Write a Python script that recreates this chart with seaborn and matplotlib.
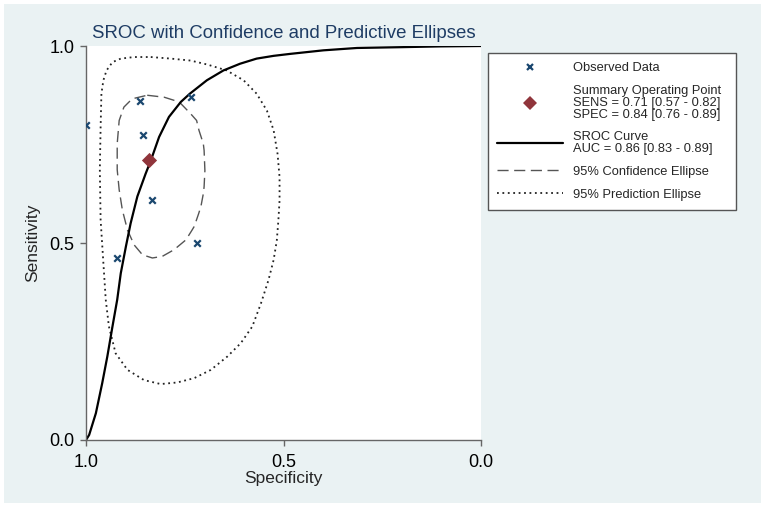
import matplotlib
matplotlib.use("Agg")
import matplotlib.pyplot as plt
import seaborn as sns
from matplotlib.lines import Line2D
from matplotlib.patches import Rectangle

# observed study points (specificity, sensitivity)
obs_spec = [1.000, 0.864, 0.734, 0.855, 0.833, 0.719, 0.922]
obs_sens = [0.800, 0.861, 0.870, 0.774, 0.610, 0.499, 0.462]

# summary operating point
sum_spec = [0.84]
sum_sens = [0.71]

# SROC curve
sroc_spec = [1.000, 0.992, 0.975, 0.959, 0.946, 0.933, 0.921, 0.912, 0.899, 0.887,
             0.870, 0.849, 0.836, 0.815, 0.790, 0.760, 0.737, 0.694, 0.652, 0.610,
             0.568, 0.525, 0.483, 0.399, 0.314, 0.204, 0.103, 0.000]
sroc_sens = [0.000, 0.013, 0.068, 0.144, 0.212, 0.288, 0.356, 0.423, 0.491, 0.550,
             0.618, 0.676, 0.709, 0.769, 0.820, 0.858, 0.879, 0.913, 0.938, 0.955,
             0.968, 0.975, 0.980, 0.989, 0.995, 0.997, 0.999, 1.000]

# 95% confidence ellipse
ci_spec = [0.845, 0.802, 0.764, 0.735, 0.720, 0.714, 0.703, 0.701, 0.699, 0.701,
           0.703, 0.709, 0.715, 0.726, 0.732, 0.747, 0.777, 0.807, 0.832, 0.857,
           0.878, 0.895, 0.908, 0.916, 0.921, 0.921, 0.916, 0.904, 0.883, 0.845]
ci_sens = [0.875, 0.870, 0.858, 0.828, 0.811, 0.786, 0.752, 0.735, 0.684, 0.643,
           0.625, 0.593, 0.574, 0.542, 0.532, 0.508, 0.483, 0.466, 0.462, 0.470,
           0.495, 0.533, 0.584, 0.635, 0.686, 0.752, 0.811, 0.845, 0.866, 0.875]

# 95% prediction ellipse
pi_spec = [0.836, 0.785, 0.735, 0.693, 0.644, 0.601, 0.568, 0.542, 0.525, 0.515,
           0.510, 0.510, 0.513, 0.517, 0.525, 0.538, 0.557, 0.579, 0.608, 0.642,
           0.684, 0.726, 0.769, 0.811, 0.853, 0.895, 0.925, 0.942, 0.950, 0.956,
           0.963, 0.965, 0.963, 0.961, 0.956, 0.948, 0.933, 0.912, 0.878, 0.836]
pi_sens = [0.972, 0.968, 0.963, 0.953, 0.938, 0.913, 0.879, 0.836, 0.786, 0.726,
           0.667, 0.608, 0.557, 0.506, 0.457, 0.406, 0.347, 0.288, 0.246, 0.212,
           0.178, 0.157, 0.146, 0.142, 0.152, 0.178, 0.220, 0.288, 0.356, 0.449,
           0.559, 0.686, 0.794, 0.879, 0.913, 0.938, 0.959, 0.968, 0.972, 0.972]

legend_labels = [
    "Observed Data",
    "Summary Operating Point\nSENS = 0.71 [0.57 - 0.82]\nSPEC = 0.84 [0.76 - 0.89]",
    "SROC Curve\nAUC = 0.86 [0.83 - 0.89]",
    "95% Confidence Ellipse",
    "95% Prediction Ellipse",
]

NAVY = "#1a476f"
MAROON = "#90353b"
BG = "#eaf2f3"

sns.set_style("white")
plt.rcParams["font.family"] = ["Liberation Sans", "DejaVu Sans"]

fig = plt.figure(figsize=(7.65, 5.08), dpi=100)
fig.patch.set_facecolor("white")
fig.patches.append(Rectangle((4 / 765, 5 / 508), 757 / 765, 499 / 508,
                             transform=fig.transFigure, facecolor=BG,
                             edgecolor="none", zorder=-10))

ax = fig.add_axes([86 / 765, 68 / 508, 395 / 765, 394 / 508])
ax.set_facecolor("white")

sns.lineplot(x=pi_spec, y=pi_sens, sort=False, estimator=None, ax=ax,
             color="#222222", lw=1.3, linestyle=(0, (1, 2)))
sns.lineplot(x=ci_spec, y=ci_sens, sort=False, estimator=None, ax=ax,
             color="#555555", lw=1.0, linestyle=(0, (8, 4)))
sns.lineplot(x=sroc_spec, y=sroc_sens, sort=False, estimator=None, ax=ax,
             color="black", lw=1.6)
sns.scatterplot(x=obs_spec, y=obs_sens, ax=ax, marker="x", color=NAVY,
                s=22, linewidth=1.6, zorder=5)
sns.scatterplot(x=sum_spec, y=sum_sens, ax=ax, marker="D", color=MAROON,
                s=60, linewidth=0, zorder=6)

ax.set_xlim(1.0, 0.0)
ax.set_ylim(0.0, 1.0)
ax.set_xticks([1.0, 0.5, 0.0])
ax.set_yticks([0.0, 0.5, 1.0])
ax.set_xticklabels(["1.0", "0.5", "0.0"])
ax.set_yticklabels(["0.0", "0.5", "1.0"])
ax.tick_params(axis="both", direction="out", length=4.5, width=1, color="#666666",
               labelsize=13, pad=4, labelcolor="black", left=True, bottom=True)
ax.tick_params(axis="x", pad=5.5)
for side in ["top", "right"]:
    ax.spines[side].set_visible(False)
for side in ["left", "bottom"]:
    ax.spines[side].set_color("#666666")
    ax.spines[side].set_linewidth(1)

ax.set_xlabel("Specificity", fontsize=12.5)
ax.set_ylabel("Sensitivity", fontsize=12.5)
ax.xaxis.set_label_coords(0.5, -0.079)
ax.yaxis.set_label_coords(-0.116, 0.5)

fig.text(92 / 765, 1 - 33 / 508, "SROC with Confidence and Predictive Ellipses",
         fontsize=13.4, color="#1e3c64", ha="left", va="center")

handles = [
    Line2D([], [], ls="none", marker="x", color=NAVY, ms=4.5, mew=1.6),
    Line2D([], [], ls="none", marker="D", color=MAROON, ms=7.5, mew=0),
    Line2D([], [], color="black", lw=1.6),
    Line2D([], [], color="#555555", lw=1.0, linestyle=(0, (8, 4))),
    Line2D([], [], color="#222222", lw=1.3, linestyle=(0, (1, 2))),
]
leg_top = 1 - 53 / 508
leg = fig.legend(handles, legend_labels, loc="upper left",
                 bbox_to_anchor=(488 / 765, leg_top - 0.01, 248 / 765, 0.01),
                 bbox_transform=fig.transFigure, mode="expand", borderaxespad=0,
                 fontsize=9.3, frameon=True, fancybox=False, framealpha=1,
                 edgecolor="#555555", handlelength=5.1, handletextpad=0.75,
                 labelspacing=0.82, borderpad=0.7)
leg.get_frame().set_linewidth(1.0)
for t in leg.get_texts():
    t.set_linespacing(1.0)

fig.savefig("out.png", dpi=100, facecolor="white")
